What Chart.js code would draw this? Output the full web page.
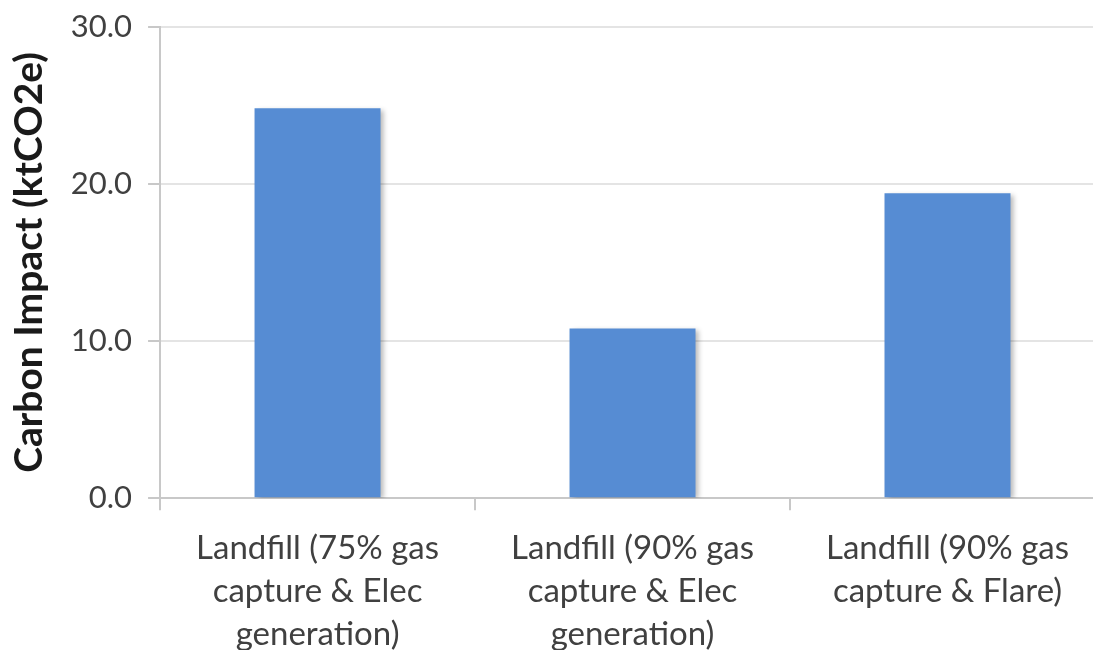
<!DOCTYPE html>
<html>
<head>
<meta charset="utf-8">
<script src="https://cdn.jsdelivr.net/npm/chart.js@4/dist/chart.umd.min.js"></script>
<style>
  html, body { margin: 0; padding: 0; background: #fff; overflow: hidden; }
  #wrap { width: 1108px; height: 681px; margin-top: -8px; }
</style>
</head>
<body>
<div id="wrap"><canvas id="c" width="1108" height="681"></canvas></div>
<script>
// Landfill scenarios and their carbon impact (ktCO2e)
const categories = [
  ["Landfill (75% gas", "capture & Elec", "generation)"],
  ["Landfill (90% gas", "capture & Elec", "generation)"],
  ["Landfill (90% gas", "capture & Flare)"]
];
const carbonImpact = [24.8, 10.8, 19.4];
const yTicks = [0, 10, 20, 30];

const FONT = "Lato, 'Open Sans', sans-serif";

// soft drop shadow behind the bars
const barShadow = {
  id: 'barShadow',
  beforeDatasetsDraw(chart) {
    const ctx = chart.ctx;
    ctx.save();
    ctx.shadowColor = 'rgba(0,0,0,0.28)';
    ctx.shadowBlur = 5;
    ctx.shadowOffsetX = 3;
    ctx.shadowOffsetY = 2;
  },
  afterDatasetsDraw(chart) {
    chart.ctx.restore();
  }
};

new Chart(document.getElementById('c'), {
  type: 'bar',
  data: {
    labels: categories,
    datasets: [{
      data: carbonImpact,
      backgroundColor: '#568cd3',
      borderWidth: 0,
      barPercentage: 0.4,
      categoryPercentage: 1.0
    }]
  },
  options: {
    responsive: false,
    animation: false,
    layout: { padding: { left: 6, top: 2, right: 3, bottom: 0 } },
    plugins: { legend: { display: false }, tooltip: { enabled: false } },
    scales: {
      x: {
        grid: {
          offset: true,
          drawOnChartArea: false,
          drawTicks: true,
          tickLength: 12,
          color: '#c8c8c8',
          lineWidth: 2
        },
        border: { color: '#c8c8c8', width: 2 },
        ticks: {
          color: '#404040',
          font: { family: FONT, size: 33, lineHeight: 1.3 },
          padding: 17,
          maxRotation: 0,
          autoSkip: false
        }
      },
      y: {
        min: 0,
        max: 30,
        afterBuildTicks(scale) { scale.ticks = yTicks.map(v => ({ value: v })); },
        grid: {
          color: '#e4e4e4',
          lineWidth: 2,
          tickLength: 12,
          tickColor: '#c8c8c8'
        },
        border: { color: '#c8c8c8', width: 2 },
        ticks: {
          color: '#404040',
          font: { family: FONT, size: 31 },
          padding: 16,
          callback: v => v.toFixed(1)
        },
        title: {
          display: true,
          text: 'Carbon Impact (ktCO2e)',
          color: '#1a1a1a',
          font: { family: FONT, size: 39, weight: 'bold' },
          padding: { top: 0, bottom: 2 }
        }
      }
    }
  },
  plugins: [barShadow]
});
</script>
</body>
</html>
